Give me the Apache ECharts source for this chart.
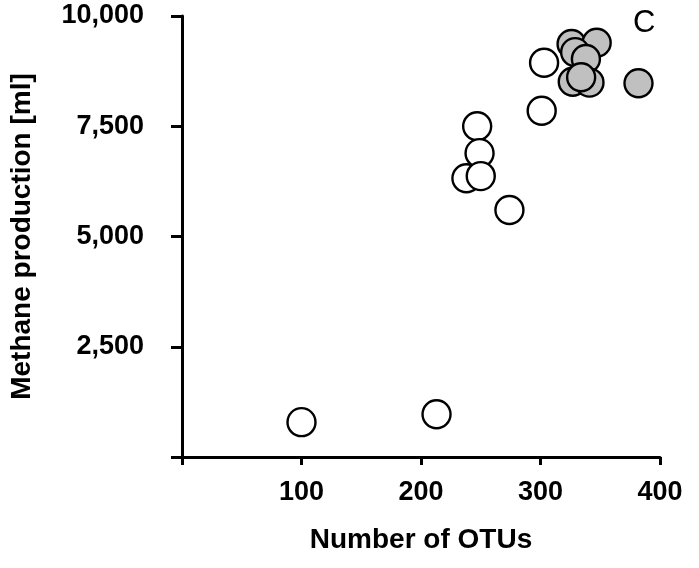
<!DOCTYPE html>
<html>
<head>
<meta charset="utf-8">
<script src="https://cdn.jsdelivr.net/npm/echarts@6/dist/echarts.min.js"></script>
<style>
  html, body { margin: 0; padding: 0; background: #fff; }
  #chart { width: 699px; height: 568px; }
</style>
</head>
<body>
<div id="chart"></div>
<script>
// Number of OTUs vs. methane production, two groups of samples
const openOtus = [100, 213, 238, 247, 249, 250, 274, 301, 303];
const openMethane = [790, 970, 6320, 7500, 6890, 6370, 5600, 7850, 8940];

const filledOtus = [326, 347, 329, 338, 327, 341, 334, 382];
const filledMethane = [9365, 9395, 9180, 9025, 8510, 8490, 8610, 8475];

const xTicks = [0, 100, 200, 300, 400];
const yTicks = [0, 2500, 5000, 7500, 10000];

const FONT = '"Liberation Sans", Arial, Helvetica, sans-serif';

function pairs(xs, ys) {
  return xs.map((x, i) => [x, ys[i]]);
}

const chart = echarts.init(document.getElementById('chart'), null, { renderer: 'canvas' });

const axisStyle = { lineStyle: { color: '#000', width: 3 } };

chart.setOption({
  animation: false,
  backgroundColor: '#fff',
  grid: { left: 182, right: 39, top: 16, bottom: 111, containLabel: false },
  xAxis: {
    type: 'value',
    min: xTicks[0],
    max: xTicks[xTicks.length - 1],
    interval: xTicks[1] - xTicks[0],
    splitLine: { show: false },
    axisLine: axisStyle,
    axisTick: { show: true, inside: false, length: 8, lineStyle: { color: '#000', width: 3 } },
    axisLabel: {
      margin: 22,
      color: '#000',
      fontFamily: FONT,
      fontWeight: 'bold',
      fontSize: 27,
      formatter: v => (v === 0 ? '' : String(v))
    },
    name: 'Number of OTUs',
    nameLocation: 'middle',
    nameGap: 69,
    nameTextStyle: { color: '#000', fontFamily: FONT, fontWeight: 'bold', fontSize: 28 }
  },
  yAxis: {
    type: 'value',
    min: yTicks[0],
    max: yTicks[yTicks.length - 1],
    interval: yTicks[1] - yTicks[0],
    splitLine: { show: false },
    axisLine: axisStyle,
    axisTick: { show: true, inside: false, length: 11, lineStyle: { color: '#000', width: 3 } },
    axisLabel: {
      margin: 38,
      color: '#000',
      fontFamily: FONT,
      fontWeight: 'bold',
      fontSize: 27,
      formatter: v => (v === 0 ? '' : v.toLocaleString('en-US'))
    },
    name: 'Methane production [ml]',
    nameLocation: 'middle',
    nameGap: 146,
    nameTextStyle: { color: '#000', fontFamily: FONT, fontWeight: 'bold', fontSize: 28 }
  },
  series: [
    {
      name: 'open',
      type: 'scatter',
      data: pairs(openOtus, openMethane),
      symbol: 'circle',
      symbolSize: 28,
      itemStyle: { color: '#fff', borderColor: '#000', borderWidth: 2.4, opacity: 1 },
      emphasis: { disabled: true }
    },
    {
      name: 'filled',
      type: 'scatter',
      data: pairs(filledOtus, filledMethane),
      symbol: 'circle',
      symbolSize: 28,
      itemStyle: { color: '#c0c0c0', borderColor: '#000', borderWidth: 2.4, opacity: 1 },
      emphasis: { disabled: true }
    }
  ],
  graphic: [
    {
      type: 'text',
      left: 633,
      top: 8,
      style: { text: 'C', fill: '#000', font: '31px ' + FONT }
    }
  ]
});
</script>
</body>
</html>
